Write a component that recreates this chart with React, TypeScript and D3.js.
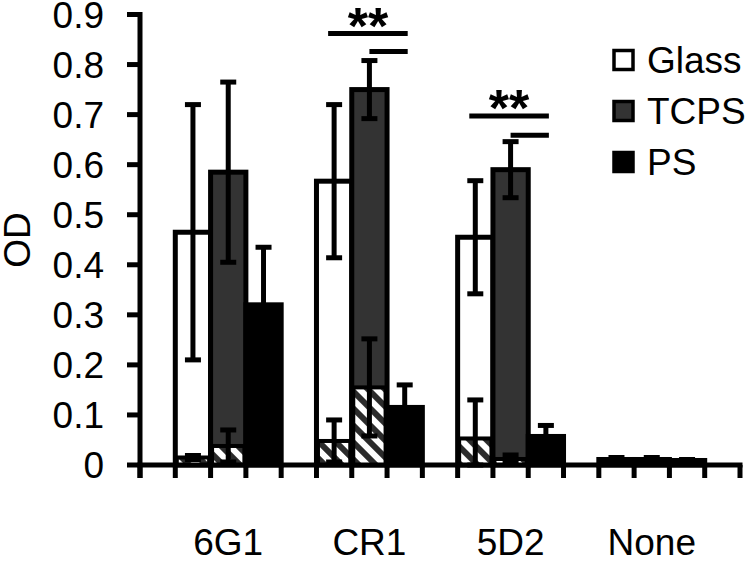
import { useEffect, useRef } from "react";
import * as d3 from "d3";

// groups on the x axis and the three surfaces
const groups = ["6G1", "CR1", "5D2", "None"];
const surfaces = ["Glass", "TCPS", "PS"];
const surfaceFill = ["#ffffff", "#333333", "#000000"];

// main (solid) bars: mean and error per group
const glassMean = [0.465, 0.567, 0.455, 0.011];
const glassErr = [0.255, 0.153, 0.113, 0.004];
const tcpsMean = [0.585, 0.75, 0.59, 0.011];
const tcpsErr = [0.18, 0.058, 0.056, 0.004];
const psMean = [0.32, 0.115, 0.057, 0.009];
const psErr = [0.115, 0.045, 0.022, 0.002];

// hatched (lower) bars drawn over the solid ones
const glassHatch = [0.015, 0.048, 0.053, 0.008];
const glassHatchErr = [0.004, 0.042, 0.077, 0.003];
const tcpsHatch = [0.038, 0.155, 0.012, 0.008];
const tcpsHatchErr = [0.032, 0.097, 0.008, 0.003];
const psHatch = [0.006, 0.006, 0.005, 0.006];
const psHatchErr = [0.002, 0.002, 0.002, 0.002];

const yTicks = [0, 0.1, 0.2, 0.3, 0.4, 0.5, 0.6, 0.7, 0.8, 0.9];
const yTickLabels = ["0", "0.1", "0.2", "0.3", "0.4", "0.5", "0.6", "0.7", "0.8", "0.9"];

// significance brackets (long: Glass-PS, short: TCPS-PS)
const sigGroups = ["CR1", "5D2"];
const sigLongTop = [0.862, 0.697];
const sigShortTop = [0.826, 0.659];

const FONT = "'Liberation Sans', Arial, sans-serif";

export default function App() {
  const svgRef = useRef<SVGSVGElement | null>(null);

  useEffect(() => {
    if (!svgRef.current) return;
    const svg = d3.select(svgRef.current);
    svg.selectAll("*").remove();

    const W = 750;
    const H = 569;
    const left = 140;
    const right = 740;
    const slots = d3.range(17);
    const LW = 5;

    const x = d3.scaleBand<number>().domain(slots).range([left, right]).padding(0);
    const y = d3.scaleLinear().domain([0, 0.9]).range([465, 14.5]);

    const slotOf = (g: number, s: number) => 1 + g * 4 + s;
    const cx = (g: number, s: number) => x(slotOf(g, s))! + x.bandwidth() / 2;

    svg.attr("width", W).attr("height", H);

    const defs = svg.append("defs");
    const pat = defs
      .append("pattern")
      .attr("id", "hatch")
      .attr("patternUnits", "userSpaceOnUse")
      .attr("width", 12)
      .attr("height", 12)
      .attr("patternTransform", "rotate(-45)");
    pat.append("rect").attr("width", 12).attr("height", 12).attr("fill", "#2b2b2b");
    pat.append("rect").attr("width", 6).attr("height", 12).attr("fill", "#ffffff");

    const means = [glassMean, tcpsMean, psMean];
    const errs = [glassErr, tcpsErr, psErr];
    const hatch = [glassHatch, tcpsHatch, psHatch];
    const hatchErrs = [glassHatchErr, tcpsHatchErr, psHatchErr];

    const capW = 16;
    const drawErr = (gSel: any, g: number, s: number, m: number, e: number) => {
      const c = cx(g, s);
      gSel
        .append("line")
        .attr("x1", c)
        .attr("x2", c)
        .attr("y1", y(m + e))
        .attr("y2", y(Math.max(0, m - e)))
        .attr("stroke", "#000")
        .attr("stroke-width", LW);
      [m + e, Math.max(0, m - e)].forEach((v) => {
        gSel
          .append("line")
          .attr("x1", c - capW / 2)
          .attr("x2", c + capW / 2)
          .attr("y1", y(v))
          .attr("y2", y(v))
          .attr("stroke", "#000")
          .attr("stroke-width", LW);
      });
    };

    const bars = svg.append("g");
    groups.forEach((_, g) => {
      surfaces.forEach((__, s) => {
        bars
          .append("rect")
          .attr("x", x(slotOf(g, s))!)
          .attr("width", x.bandwidth())
          .attr("y", y(means[s][g]))
          .attr("height", y(0) - y(means[s][g]))
          .attr("fill", surfaceFill[s])
          .attr("stroke", "#000")
          .attr("stroke-width", LW);
      });
      surfaces.forEach((__, s) => drawErr(bars, g, s, means[s][g], errs[s][g]));
      surfaces.forEach((__, s) => {
        bars
          .append("rect")
          .attr("x", x(slotOf(g, s))! + 1.5)
          .attr("width", x.bandwidth() - 3)
          .attr("y", y(hatch[s][g]))
          .attr("height", y(0) - y(hatch[s][g]))
          .attr("fill", "url(#hatch)")
          .attr("stroke", "#000")
          .attr("stroke-width", 4);
      });
      surfaces.forEach((__, s) => drawErr(bars, g, s, hatch[s][g], hatchErrs[s][g]));
    });

    // axes
    const axes = svg.append("g").attr("stroke", "#000").attr("stroke-width", LW);
    axes.append("line").attr("x1", left).attr("x2", left).attr("y1", y(0.9) - 2.5).attr("y2", 478);
    axes.append("line").attr("x1", left - 2.5).attr("x2", right + 2.5).attr("y1", y(0)).attr("y2", y(0));
    slots.concat([17]).forEach((i) => {
      const xp = i < 17 ? x(i)! : right;
      axes.append("line").attr("x1", xp).attr("x2", xp).attr("y1", y(0)).attr("y2", 478);
    });
    yTicks.forEach((t) => {
      axes.append("line").attr("x1", left - 13).attr("x2", left).attr("y1", y(t)).attr("y2", y(t));
    });

    const txt = svg.append("g").attr("font-family", FONT).attr("font-size", 37).attr("fill", "#000");
    yTicks.forEach((t, i) => {
      txt
        .append("text")
        .attr("x", 104)
        .attr("y", y(t))
        .attr("dy", "0.36em")
        .attr("text-anchor", "end")
        .text(yTickLabels[i]);
    });
    groups.forEach((name, g) => {
      txt
        .append("text")
        .attr("x", cx(g, 1))
        .attr("y", 555)
        .attr("text-anchor", "middle")
        .text(name);
    });
    txt
      .append("text")
      .attr("transform", `translate(30,240) rotate(-90)`)
      .attr("text-anchor", "middle")
      .text("OD");

    // significance brackets
    const sig = svg.append("g");
    sigGroups.forEach((name, k) => {
      const g = groups.indexOf(name);
      const x0 = cx(g, 0) - 6;
      const x1 = cx(g, 2) + 3;
      const xm = cx(g, 1);
      sig
        .append("line")
        .attr("x1", x0)
        .attr("x2", x1)
        .attr("y1", y(sigLongTop[k]))
        .attr("y2", y(sigLongTop[k]))
        .attr("stroke", "#000")
        .attr("stroke-width", LW);
      sig
        .append("line")
        .attr("x1", xm)
        .attr("x2", x1)
        .attr("y1", y(sigShortTop[k]))
        .attr("y2", y(sigShortTop[k]))
        .attr("stroke", "#000")
        .attr("stroke-width", LW);
      sig
        .append("text")
        .attr("x", (x0 + x1) / 2)
        .attr("y", y(sigLongTop[k]) + 10)
        .attr("text-anchor", "middle")
        .attr("font-family", FONT)
        .attr("font-weight", "bold")
        .attr("font-size", 52)
        .text("**");
    });

    // legend
    const legend = svg.append("g").attr("font-family", FONT).attr("font-size", 37);
    surfaces.forEach((name, s) => {
      const cy = 60 + s * 51;
      legend
        .append("rect")
        .attr("x", 614)
        .attr("y", cy - 9.5)
        .attr("width", 19)
        .attr("height", 19)
        .attr("fill", surfaceFill[s])
        .attr("stroke", "#000")
        .attr("stroke-width", 3.5);
      legend
        .append("text")
        .attr("x", 647)
        .attr("y", cy)
        .attr("dy", "0.36em")
        .text(name);
    });
  }, []);

  return (
    <div style={{ position: "absolute", left: 0, top: 0, background: "#fff" }}>
      <svg ref={svgRef} style={{ display: "block" }}></svg>
    </div>
  );
}
